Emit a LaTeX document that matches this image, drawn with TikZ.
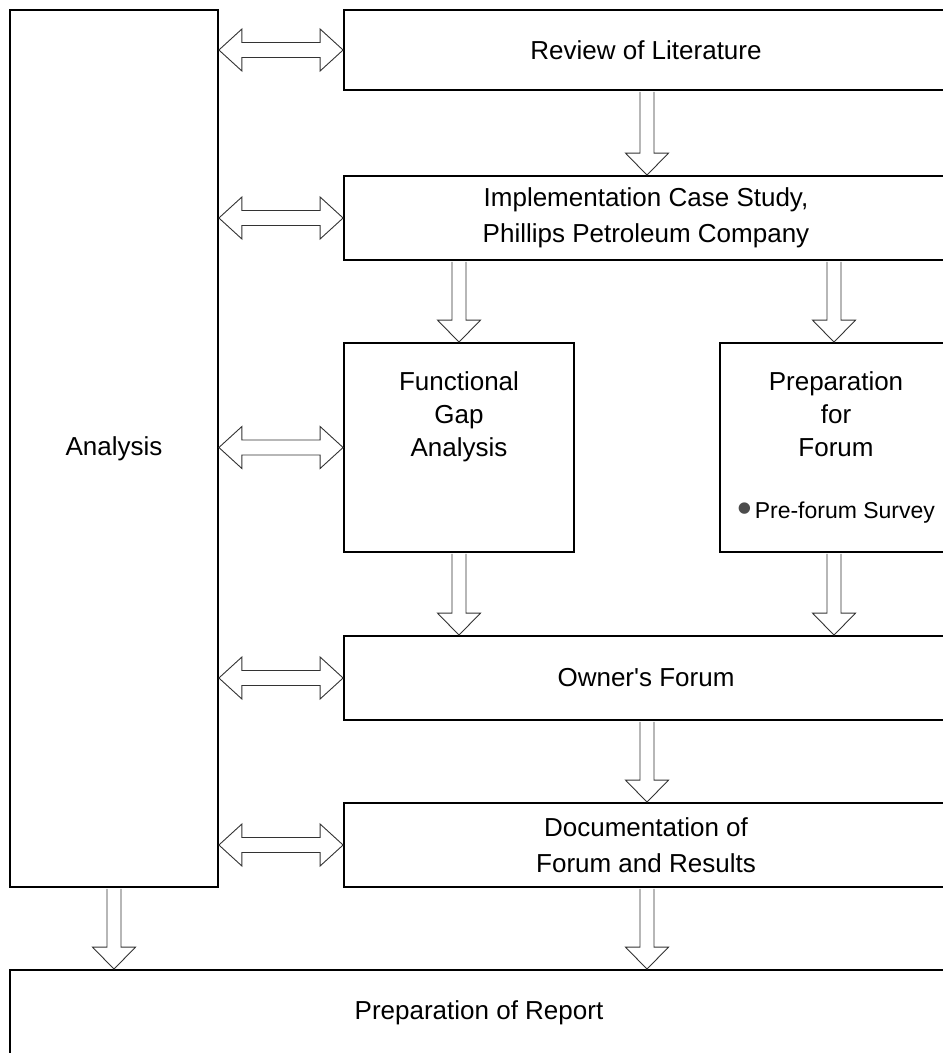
\documentclass[tikz,border=0pt]{standalone}
\usepackage{fontspec}
\setmainfont{Liberation Sans}
\usetikzlibrary{positioning,calc}
\tikzset{blk/.style={draw,line width=1.8pt,rectangle,inner sep=0pt,align=center,font=\fontsize{26}{33}\selectfont}  }
\tikzset{fatarr/.style={draw=black!80,line width=0.9pt,fill=white,line join=miter}  }
\newcommand{\smalltxt}{\fontsize{23}{28}\selectfont}
% hollow arrow going down from one box to the next, at a given x
\newcommand{\fatdown}[3]{%
	\coordinate (s) at (#1,0 |- #2.south);
	\coordinate (t) at (#1,0 |- #3.north);
	\draw[fatarr] ($(s)+(-7,0.9)$) -- ($(t)+(-7,-22)$) -- ($(t)+(-21.5,-22)$) -- (t)
		-- ($(t)+(21.5,-22)$) -- ($(t)+(7,-22)$) -- ($(s)+(7,0.9)$);
}
% hollow double arrow between analysis and a box
\newcommand{\fatboth}[2]{%
	\coordinate (l) at (#1.east |- #2.west);
	\coordinate (r) at (#2.west);
	\draw[fatarr] (l) -- ($(l)+(23,-21)$) -- ($(l)+(23,-7.5)$) -- ($(r)+(-23,-7.5)$)
		-- ($(r)+(-23,-21)$) -- (r) -- ($(r)+(-23,21)$) -- ($(r)+(-23,7.5)$)
		-- ($(l)+(23,7.5)$) -- ($(l)+(23,21)$) -- cycle;
}

\begin{document}
\begin{tikzpicture}[x=1pt,y=-1pt]
	\useasboundingbox (0,0) rectangle (943,1053);
	\clip (0,0) rectangle (943,1053);

	\node[blk,minimum width=208pt,minimum height=877pt] (analysis) at (114,448.5) {Analysis};
	\node[blk,minimum width=604pt,minimum height=80pt] (review) at (646,50) {Review of Literature};
	\node[blk,minimum width=604pt,minimum height=84pt] (casestudy) at (646,218)
		{Implementation Case Study,\\[3pt]Phillips Petroleum Company};
	\node[blk,minimum width=230pt,minimum height=209pt] (gap) at (459,447.5)
		{Functional\\Gap\\Analysis\\[28.5pt]{\smalltxt\phantom{Pre-forum Survey}}};
	\node[blk,minimum width=232pt,minimum height=209pt] (prep) at (836,447.5)
		{Preparation\\for\\Forum\\[28.5pt]{\smalltxt{\fontsize{42}{28}\selectfont\color{black!70}\raisebox{-4pt}{•}}\hspace{3pt}Pre-forum Survey}};
	\node[blk,minimum width=604pt,minimum height=84pt] (forum) at (646,678) {Owner\textquotesingle s Forum};
	\node[blk,minimum width=604pt,minimum height=84pt] (docu) at (646,845)
		{Documentation of\\[3pt]Forum and Results};
	\node[blk,minimum width=938pt,minimum height=86pt] (report) at (479,1013) {Preparation of Report};

	\foreach \b in {review,casestudy,gap,forum,docu}
		\fatboth{analysis}{\b};

	\fatdown{647}{review}{casestudy}
	\fatdown{459}{casestudy}{gap}
	\fatdown{834}{casestudy}{prep}
	\fatdown{459}{gap}{forum}
	\fatdown{834}{prep}{forum}
	\fatdown{647}{forum}{docu}
	\fatdown{114}{analysis}{report}
	\fatdown{647}{docu}{report}
\end{tikzpicture}
\end{document}
